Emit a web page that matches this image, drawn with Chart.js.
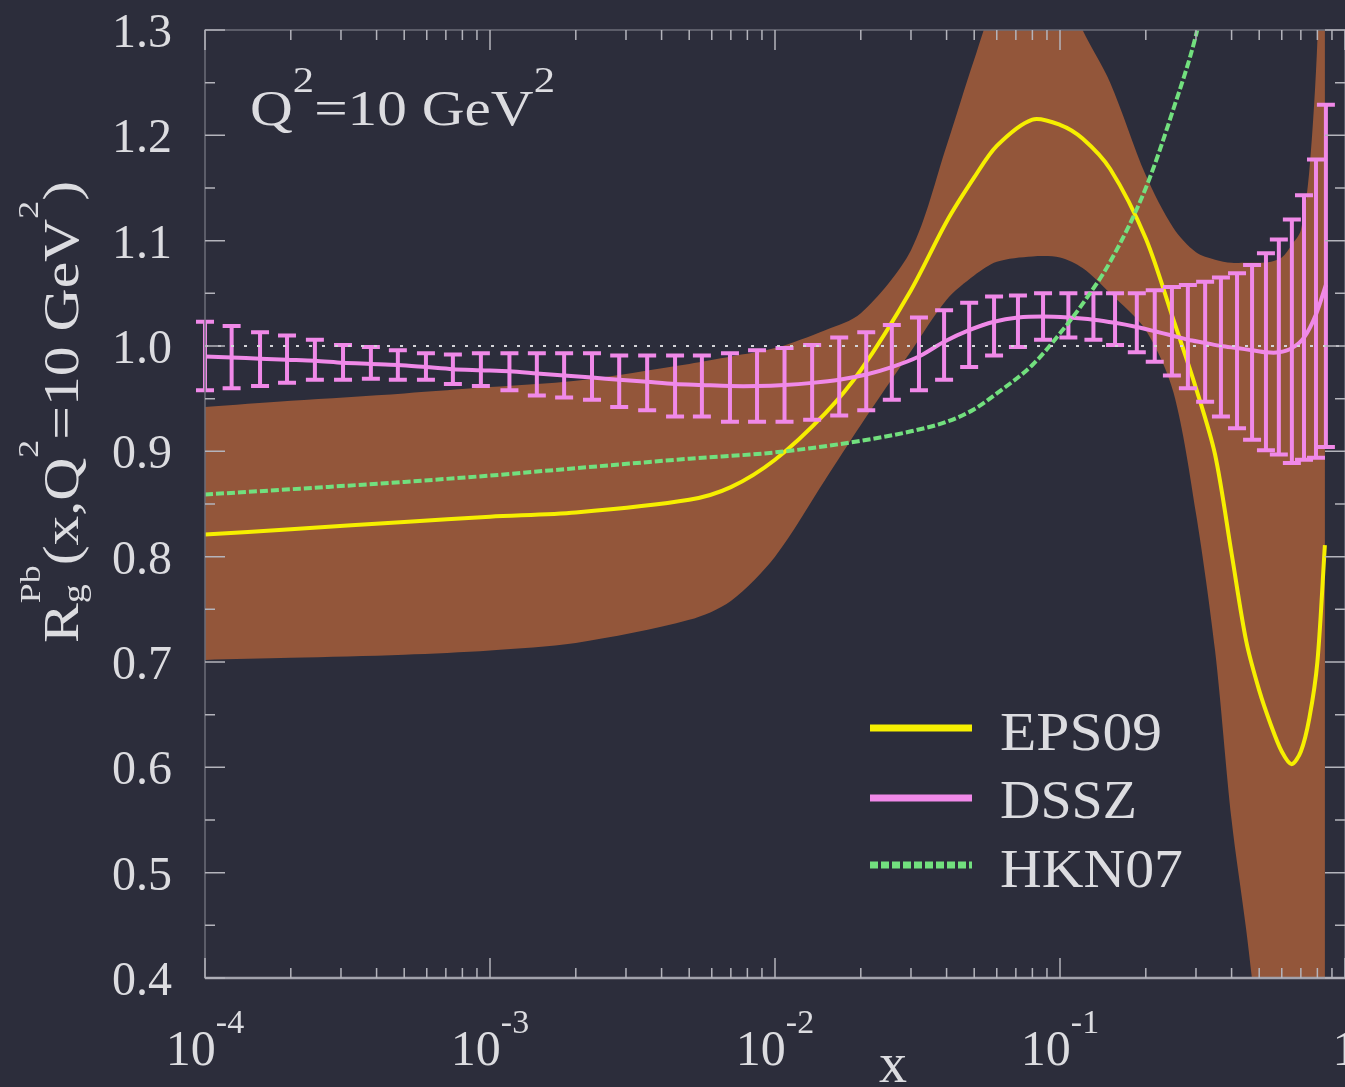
<!DOCTYPE html>
<html>
<head>
<meta charset="utf-8">
<title>R_g^Pb nuclear modification</title>
<script src="https://cdn.jsdelivr.net/npm/chart.js@4.4.9/dist/chart.umd.min.js"></script>
<style>
  html, body { margin:0; padding:0; background:#2c2d3b; }
  #wrap { width:1345px; height:1087px; }
</style>
</head>
<body>
<div id="wrap"><canvas id="canvas" width="1345" height="1087"></canvas></div>
<script>
/* data */
const bandX = [1e-4, 2e-4, 5e-4, 1e-3, 2e-3, 5e-3, 7e-3, 1e-2, 1.5e-2, 2e-2, 3e-2, 4e-2, 5e-2, 6e-2, 8e-2,
               0.1, 0.12, 0.15, 0.2, 0.25, 0.3, 0.35, 0.4, 0.45, 0.5, 0.55, 0.6, 0.65, 0.7, 0.75, 0.8, 0.85];
const eps09 = [0.821, 0.826, 0.833, 0.838, 0.842, 0.854, 0.866, 0.892, 0.936, 0.977, 1.053, 1.118, 1.160, 1.190, 1.215,
               1.210, 1.197, 1.168, 1.102, 1.025, 0.960, 0.897, 0.803, 0.720, 0.673, 0.640, 0.615, 0.603, 0.615, 0.647, 0.700, 0.811];
const eps09Upper = [0.942, 0.948, 0.955, 0.961, 0.967, 0.983, 0.990, 0.998, 1.015, 1.031, 1.091, 1.190, 1.272, 1.330, 1.370,
                    1.350, 1.300, 1.250, 1.162, 1.112, 1.089, 1.082, 1.079, 1.079, 1.079, 1.080, 1.084, 1.096, 1.110, 1.167, 1.290, 1.550];
const eps09Lower = [0.702, 0.704, 0.707, 0.711, 0.718, 0.740, 0.758, 0.800, 0.873, 0.925, 0.995, 1.044, 1.067, 1.080, 1.085,
                    1.084, 1.074, 1.050, 1.015, 0.956, 0.841, 0.711, 0.550, 0.446, 0.340, 0.250, 0.150, 0.050, 0.0, -0.1, -0.2, -0.3];

const hknX  = [1e-4, 2e-4, 5e-4, 1e-3, 2e-3, 5e-3, 1e-2, 2e-2, 3e-2, 4e-2, 5e-2, 6e-2, 8e-2, 0.1, 0.12, 0.15, 0.2, 0.25, 0.3, 0.32];
const hkn07 = [0.859, 0.864, 0.871, 0.877, 0.884, 0.893, 0.899, 0.910, 0.919, 0.928, 0.940, 0.955, 0.982, 1.012, 1.040, 1.080, 1.150, 1.225, 1.295, 1.330];

const dsszX = [1.00e-4, 1.24e-4, 1.56e-4, 1.94e-4, 2.43e-4, 3.05e-4, 3.82e-4, 4.75e-4, 5.96e-4, 7.41e-4, 9.29e-4,
               1.17e-3, 1.46e-3, 1.82e-3, 2.28e-3, 2.84e-3, 3.56e-3, 4.46e-3, 5.54e-3, 6.95e-3, 8.65e-3,
               1.08e-2, 1.35e-2, 1.68e-2, 2.09e-2, 2.57e-2, 3.20e-2, 3.92e-2, 4.80e-2, 5.87e-2, 7.12e-2, 8.72e-2,
               0.107, 0.131, 0.156, 0.186, 0.215, 0.247, 0.281, 0.323, 0.367, 0.418, 0.472, 0.528, 0.586, 0.651, 0.718, 0.791, 0.857];
const dssz   = [0.990, 0.989, 0.988, 0.987, 0.986, 0.984, 0.983, 0.982, 0.980, 0.978, 0.977,
                0.976, 0.974, 0.972, 0.970, 0.968, 0.966, 0.964, 0.963, 0.962, 0.962,
                0.963, 0.965, 0.968, 0.973, 0.980, 0.990, 1.004, 1.015, 1.023, 1.027, 1.028,
                1.027, 1.025, 1.022, 1.018, 1.014, 1.010, 1.006, 1.003, 1.000, 0.998, 0.996, 0.994, 0.994, 0.998, 1.008, 1.030, 1.058];
const dsszHi = [1.023, 1.019, 1.013, 1.010, 1.006, 1.001, 0.999, 0.996, 0.993, 0.992, 0.993,
                0.993, 0.993, 0.993, 0.993, 0.991, 0.991, 0.991, 0.991, 0.993, 0.996,
                0.998, 1.001, 1.008, 1.013, 1.020, 1.027, 1.034, 1.041, 1.047, 1.048, 1.050,
                1.050, 1.050, 1.050, 1.050, 1.053, 1.056, 1.058, 1.061, 1.065, 1.069, 1.077, 1.088, 1.101, 1.120, 1.143, 1.177, 1.229];
const dsszLo = [0.958, 0.960, 0.962, 0.965, 0.968, 0.968, 0.969, 0.968, 0.968, 0.964, 0.962,
                0.958, 0.953, 0.951, 0.949, 0.942, 0.939, 0.933, 0.933, 0.928, 0.928,
                0.928, 0.930, 0.934, 0.939, 0.949, 0.958, 0.968, 0.980, 0.991, 0.999, 1.006,
                1.008, 1.006, 1.001, 0.994, 0.985, 0.972, 0.960, 0.947, 0.933, 0.922, 0.911, 0.901, 0.897, 0.889, 0.892, 0.894, 0.904];

/* ticks */
const xTickValues = [1e-4, 1e-3, 1e-2, 1e-1, 1];
const xTickBase   = ['10', '10', '10', '10', '1'];
const xTickExp    = ['-4', '-3', '-2', '-1', ''];
const yTickValues = [0.4, 0.5, 0.6, 0.7, 0.8, 0.9, 1.0, 1.1, 1.2, 1.3];
const yTickLabels = ['0.4', '0.5', '0.6', '0.7', '0.8', '0.9', '1.0', '1.1', '1.2', '1.3'];
const legendOrder = ['EPS09', 'DSSZ', 'HKN07'];

/* style */
const BG = '#2c2d3b', BAND = '#93563a', YELLOW = '#f6ef00', PINK = '#f089e8', GREEN = '#72e07e';
const TEXT = '#dcdce0';
const SERIF = '"Liberation Serif", "Times New Roman", serif';

const pts = (xs, ys) => xs.map((v, i) => ({ x: v, y: ys[i] }));

// draws a run of text pieces (base / super / sub), optionally squeezed to a target width
function drawRich(ctx, parts, x, y, { align = 'left', width = 0, rotate = 0 } = {}) {
  let total = 0;
  const adv = parts.map(p => {
    ctx.font = `${p.size}px ${SERIF}`;
    return ctx.measureText(p.t).width;
  });
  for (let i = 0; i < parts.length; i++) {
    if (parts[i].stack) { total += Math.max(adv[i], adv[i + 1]); i++; }
    else total += adv[i];
  }
  const sx = width ? width / total : 1;
  ctx.save();
  ctx.translate(x, y);
  if (rotate) ctx.rotate(rotate);
  ctx.scale(sx, 1);
  ctx.fillStyle = TEXT;
  ctx.textBaseline = 'alphabetic';
  ctx.textAlign = 'left';
  let cx = align === 'center' ? -total / 2 : (align === 'right' ? -total : 0);
  for (let i = 0; i < parts.length; i++) {
    const p = parts[i];
    ctx.font = `${p.size}px ${SERIF}`;
    ctx.fillText(p.t, cx, p.dy || 0);
    if (p.stack) {
      const q = parts[i + 1];
      ctx.font = `${q.size}px ${SERIF}`;
      ctx.fillText(q.t, cx, q.dy || 0);
      cx += Math.max(adv[i], adv[i + 1]); i++;
    } else cx += adv[i];
  }
  ctx.restore();
}

const framePlugin = {
  id: 'frame',
  beforeDraw(chart) {
    const { ctx, width, height } = chart;
    ctx.save(); ctx.fillStyle = BG; ctx.fillRect(0, 0, width, height); ctx.restore();
  },
  afterDatasetDraw(chart, args) {
    if (chart.data.datasets[args.index].label !== 'DSSZ') return;
    const { ctx, scales: { x, y } } = chart;
    ctx.save();
    ctx.strokeStyle = PINK; ctx.lineWidth = 4; ctx.lineCap = 'butt';
    dsszX.forEach((xv, i) => {
      const px = x.getPixelForValue(xv), hi = y.getPixelForValue(dsszHi[i]), lo = y.getPixelForValue(dsszLo[i]);
      ctx.beginPath();
      ctx.moveTo(px, hi); ctx.lineTo(px, lo);
      ctx.moveTo(px - 9, hi); ctx.lineTo(px + 9, hi);
      ctx.moveTo(px - 9, lo); ctx.lineTo(px + 9, lo);
      ctx.stroke();
    });
    ctx.restore();
  },
  afterDatasetsDraw(chart) {
    const { ctx, chartArea: a, scales: { x, y } } = chart;
    ctx.save();
    // dotted reference line at 1
    const y1 = y.getPixelForValue(1.0);
    ctx.strokeStyle = '#d4d4d8'; ctx.lineWidth = 2; ctx.setLineDash([3, 10]);
    ctx.beginPath(); ctx.moveTo(a.left, y1); ctx.lineTo(a.right, y1); ctx.stroke();
    ctx.setLineDash([]);
    // frame: faint on top/left/right, brighter along the bottom
    ctx.strokeStyle = '#6c6d7a'; ctx.lineWidth = 1.5;
    ctx.strokeRect(a.left, a.top, a.right - a.left, a.bottom - a.top);
    ctx.strokeStyle = '#a2a2ac'; ctx.lineWidth = 2.5;
    ctx.beginPath(); ctx.moveTo(a.left, a.bottom); ctx.lineTo(a.right, a.bottom); ctx.stroke();
    // x ticks, inward on bottom and top
    ctx.strokeStyle = '#b4b4bc'; ctx.lineWidth = 1.5;
    for (let e = -4; e <= 0; e++) {
      for (let m = 1; m <= 9; m++) {
        const v = m * Math.pow(10, e);
        if (v > 1.0001) break;
        const px = x.getPixelForValue(v), len = m === 1 ? 20 : 10;
        ctx.beginPath();
        ctx.moveTo(px, a.bottom); ctx.lineTo(px, a.bottom - len);
        ctx.moveTo(px, a.top); ctx.lineTo(px, a.top + len);
        ctx.stroke();
      }
    }
    // y ticks, inward on left and right
    for (let k = 0; k <= 18; k++) {
      const v = 0.4 + k * 0.05, py = y.getPixelForValue(v), len = k % 2 === 0 ? 20 : 10;
      ctx.beginPath();
      ctx.moveTo(a.left, py); ctx.lineTo(a.left + len, py);
      ctx.moveTo(a.right, py); ctx.lineTo(a.right - len, py);
      ctx.stroke();
    }
    ctx.restore();
  },
  afterDraw(chart) {
    const { ctx, scales: { x, y } } = chart;
    // y tick labels
    yTickValues.forEach((v, i) => {
      drawRich(ctx, [{ t: yTickLabels[i], size: 48 }], 172, y.getPixelForValue(v) + 17, { align: 'right' });
    });
    // x tick labels
    xTickValues.forEach((v, i) => {
      const parts = [{ t: xTickBase[i], size: 50 }];
      if (xTickExp[i]) parts.push({ t: xTickExp[i], size: 34, dy: -32 });
      drawRich(ctx, parts, x.getPixelForValue(v), 1065, { align: 'center' });
    });
    // axis titles
    drawRich(ctx, [{ t: 'x', size: 56 }], 893, 1082, { align: 'center' });
    drawRich(ctx, [
      { t: 'R', size: 50 },
      { t: 'Pb', size: 30, dy: -38, stack: true }, { t: 'g', size: 32, dy: 6 },
      { t: '(x,Q', size: 50 },
      { t: '2', size: 30, dy: -40 },
      { t: '=10 GeV', size: 50 },
      { t: '2', size: 30, dy: -40 },
      { t: ')', size: 50 }
    ], 78, 412, { align: 'center', width: 462, rotate: -Math.PI / 2 });
    // annotation
    drawRich(ctx, [
      { t: 'Q', size: 50 },
      { t: '2', size: 36, dy: -33 },
      { t: '=10 GeV', size: 50 },
      { t: '2', size: 36, dy: -33 }
    ], 250, 125, { width: 305 });
    // legend
    const rows = [[728, 750], [798, 818], [865, 887]];
    const widths = [162, 137, 183];
    legendOrder.forEach((name, i) => {
      const ds = chart.data.datasets.find(d => d.label === name);
      ctx.save();
      ctx.strokeStyle = ds.borderColor; ctx.lineWidth = 7;
      ctx.setLineDash(ds.borderDash || []);
      ctx.beginPath(); ctx.moveTo(870, rows[i][0]); ctx.lineTo(972, rows[i][0]); ctx.stroke();
      ctx.restore();
      drawRich(ctx, [{ t: name, size: 54 }], 1000, rows[i][1], { width: widths[i] });
    });
  }
};

new Chart(document.getElementById('canvas').getContext('2d'), {
  type: 'line',
  data: {
    datasets: [
      { label: 'HKN07', data: pts(hknX, hkn07), borderColor: GREEN, borderWidth: 4, borderDash: [8, 3],
        fill: false, order: 0, cubicInterpolationMode: 'monotone' },
      { label: 'DSSZ', data: pts(dsszX, dssz), borderColor: PINK, borderWidth: 4,
        fill: false, order: 1, tension: 0.3 },
      { label: 'EPS09', data: pts(bandX, eps09), borderColor: YELLOW, borderWidth: 4,
        fill: false, order: 2, tension: 0.3 },
      { label: 'EPS09 upper', data: pts(bandX, eps09Upper), borderWidth: 0, borderColor: 'rgba(0,0,0,0)',
        backgroundColor: BAND, fill: '+1', order: 3, tension: 0.3 },
      { label: 'EPS09 lower', data: pts(bandX, eps09Lower), borderWidth: 0, borderColor: 'rgba(0,0,0,0)',
        fill: false, order: 4, tension: 0.3 }
    ]
  },
  options: {
    responsive: false,
    animation: false,
    layout: { padding: { left: 205, right: 0, top: 30, bottom: 109 } },
    elements: { point: { radius: 0 } },
    scales: {
      x: { type: 'logarithmic', min: 1e-4, max: 1, display: false },
      y: { type: 'linear', min: 0.4, max: 1.3, display: false }
    },
    plugins: { legend: { display: false }, tooltip: { enabled: false } }
  },
  plugins: [framePlugin]
});
</script>
</body>
</html>
